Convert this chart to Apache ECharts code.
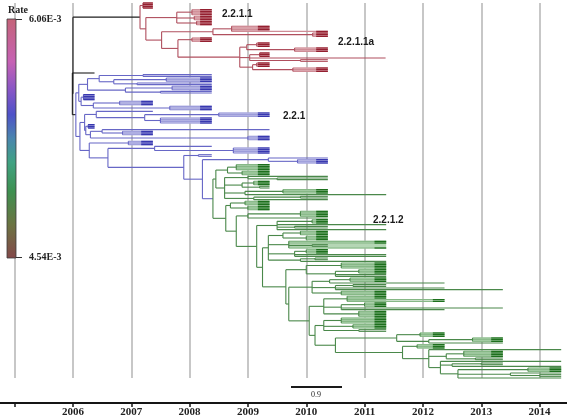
<!DOCTYPE html>
<html><head><meta charset="utf-8">
<script src="https://cdn.jsdelivr.net/npm/echarts@6/dist/echarts.min.js"></script>
<style>html,body{margin:0;padding:0;background:#fff}#c{width:567px;height:419px}</style>
</head><body><div id="c"></div>
<script>
// ---- data ----
const axisYears = [2005, 2006, 2007, 2008, 2009, 2010, 2011, 2012, 2013, 2014];
const yearLabels = ['', '2006', '2007', '2008', '2009', '2010', '2011', '2012', '2013', '2014'];
const cladeNames = ['2.2.1.1', '2.2.1.1a', '2.2.1', '2.2.1.2'];
const legendTexts = ['Rate', '6.06E-3', '4.54E-3'];
const scaleBarText = '0.9';

// tree nodes: number = tip date (one row); [key?, nodeDate, ...children] = internal node
const g1 = [2008.45,
  [2008.65, [2008.80, 2009.37, 2009.37, 2009.37, 2009.37], [2008.90, 2009.37, 2009.37, 2009.37]],
  [2008.60,
    [2009.00, 2010.37, [2009.50, 2010.37, 2010.37]],
    [2008.90, [2009.10, 2009.37, 2009.37, 2009.37], [2009.20, 2009.37, 2009.37]],
    [2008.95, [2009.60, 2010.37, 2010.37, 2010.37], 2011.37],
    [2009.10, [2009.90, 2010.37, 2010.37], 2010.37]]];
const g2 = [2008.70, [2008.95, 2009.37, 2009.37, 2009.37], [2009.00, 2009.37, 2009.37, 2009.37]];
const g3a = [2009.00, [2009.90, 2010.37, 2010.37, 2010.37, 2010.37], 2010.37];
const g3b = [2009.50, [2010.10, 2010.37, 2010.37, 2010.37], 2011.37, [2009.80, 2010.37, 2010.37], 2011.37];
const g3c = [2009.35,
  [2009.60, [2009.90, 2010.37, 2010.37, 2010.37], [2010.00, 2010.37, 2010.37, 2010.37]],
  [2009.70, 2011.37, 2011.37, [2010.10, 2010.37, 2010.37], 2011.37],
  [2009.80, [2010.00, 2010.37, 2010.37, 2010.37], 2011.37, 2011.37],
  [2009.90, [2010.15, 2010.37, 2010.37], 2011.37]];
const g4a = [2010.00, [2010.60, 2011.37, 2011.37, 2011.37, 2011.37], [2010.50, [2010.90, 2011.37, 2011.37, 2011.37], 2011.37, 2011.37]];
const g4b = [2010.10, [2010.40, [2010.75, 2011.37, 2011.37, 2011.37], 2012.37], [2010.50, [2010.80, 2011.37, 2011.37], 2012.37, 2013.37], [2010.60, 2011.37, 2011.37, 2011.37]];
const g4c = [2010.30, [2010.70, 2011.37, 2011.37, 2012.37, 2012.37], [2010.60, [2011.00, 2011.37, 2011.37, 2011.37], 2013.37, 2012.37], [2010.90, 2011.37, 2011.37, 2011.37, 2011.37]];
const g4d = [2010.30, [2010.60, 2011.37, 2011.37, 2011.37, 2011.37], [2010.80, 2011.37, 2011.37, 2011.37], [2010.90, 2011.37, 2011.37]];
const g5a = [2011.55, [2011.95, 2012.37, 2012.37, 2012.37], [2012.10, [2012.85, 2013.37, 2013.37, 2013.37], 2013.37]];
const g5b = [2011.65, [2011.90, 2012.37, 2012.37, 2012.37],
  [2012.10, 2014.37, [2012.40, [2012.70, 2013.37, 2013.37, 2013.37, 2013.37], [2012.90, 2013.37, 2013.37]],
    [2012.30, 2014.37, [2012.50, [2013.00, 2013.37, 2013.37], 2014.37],
      [2012.60, [2013.80, 2014.37, 2014.37, 2014.37], [2013.50, 2014.37, [2014.00, 2014.37, 2014.37]], 2014.37]]]];
const greenClade = ['G', 2008.40, g1,
  [2008.62, g2,
    [2008.80, g3a,
      [2009.15, g3b,
        [2009.25, g3c,
          [2009.65, g4a,
            [2009.70, g4b,
              [2010.05, g4c,
                [2010.15, g4d,
                  [2010.50, g5a, g5b]]]]]]]]]];

const b1 = [2006.25,
  [2006.45, [2007.20, 2008.38, 2008.38], [2006.70, [2007.60, 2008.38, 2008.38, 2008.38], [2007.10, 2008.38, 2008.38]]],
  [2006.90, [2007.70, 2008.38, 2008.38, 2008.38], [2007.50, 2008.38, 2008.38]]];
const b2 = [2006.18, 2006.37, 2006.37, 2006.37, 2006.37];
const b3 = [2006.35, [2006.80, 2007.37, 2007.37, 2007.37], [2007.66, 2008.38, 2008.38, 2008.38]];
const b4 = [2006.40, 2007.37, [2007.23, [2008.50, 2009.37, 2009.37, 2009.37], [2007.50, 2008.38, 2008.38, 2008.38, 2008.38]]];
const b5 = [2006.26, 2006.37, 2006.37, 2006.37];
const b6 = [2006.30, [2006.50, 2009.37, [2006.85, 2007.37, 2007.37, 2007.37]], [2007.95, [2009.00, 2009.37, 2009.37, 2009.37]]];
const b7 = [2006.95, 2007.37, 2007.37, 2007.37];
const b8 = [2006.60,
  [2007.40, 2008.38, [2008.75, 2009.37, 2009.37, 2009.37, 2009.37]],
  [2007.90, [2008.15, 2008.38, 2008.38],
    [2008.22, [2009.35, 2010.37, [2009.85, 2010.37, 2010.37, 2010.37]], greenClade]]];
const blueClade = ['B', 2006.05,
  [2006.10, b1, [2006.14, b2, b3]],
  [2006.12, [2006.20, b4, [2006.22, b5, b6]], [2006.28, b7, b8]]];

const r1 = [2007.20, 2007.37, 2007.37, 2007.37, 2007.37];
const r2 = [2007.78,
  [2008.04, 2008.38, 2008.38, 2008.38, 2008.38],
  [2008.08, 2008.38, 2008.38, 2008.38],
  [2008.12, 2008.38, 2008.38, 2008.38]];
const r3 = [2008.40, [2008.72, 2009.37, 2009.37, 2009.37, 2010.37], [2010.11, 2010.37, 2010.37, 2010.37]];
const r4 = [2008.86,
  [2008.98, [2009.15, 2009.37, 2009.37, 2009.37], [2009.80, 2010.37, 2010.37, 2010.37]],
  [2009.03, [2009.20, 2009.37, 2009.37, 2009.37], 2011.36, [2009.90, 2010.37, 2010.37]],
  [2009.08, [2009.15, 2009.37, 2009.37, 2009.37], [2009.77, 2010.37, 2010.37, 2010.37]]];
const redClade = ['R', 2007.15, r1,
  [2007.25, r2,
    [2007.52, r3,
      [2007.80, [2008.04, 2008.38, 2008.38, 2008.38], r4]]]];

const rootTree = ['K', 2006.00, redClade, ['K', 2005.99, 2006.37, blueClade]];

// ---- layout of the tree (rows from order) ----
const keyIndex = {K: 0, R: 1, B: 2, G: 3};
// per clade: [internal, light terminal, dark tip, cluster fill]
const palette = [
  ['#1e1e1e', '#1e1e1e', '#1e1e1e', 'rgba(0,0,0,0)'],
  ['#b04f5e', '#cf8c96', '#8c1222', '#e2b6bc'],
  ['#6767c6', '#9d9dda', '#2a2aaa', '#c4c4ea'],
  ['#4a884a', '#86b886', '#0f660f', '#b4d6b4']
];
let row = 0;
function build(node, key) {
  if (typeof node === 'number') return {t: node, y: row++, key: key, kids: []};
  let i = 0;
  if (typeof node[0] === 'string') { key = node[0]; i = 1; }
  const n = {t: node[i], key: key, kids: []};
  for (let j = i + 1; j < node.length; j++) n.kids.push(build(node[j], key));
  n.y = (n.kids[0].y + n.kids[n.kids.length - 1].y) / 2;
  return n;
}
const tree = build(rootTree, 'K');
const totalRows = row;
const segs = [];
function emit(n, parent) {
  if (parent) {
    const leaf = n.kids.length === 0;
    const clustered = leaf && parent.kids.filter(k => k.kids.length === 0).length >= 3;
    segs.push([parent.t, n.y, n.t, n.y, keyIndex[parent.key], clustered ? 1 : 0]);
    if (clustered) segs.push([Math.max(parent.t, n.t - 0.2), n.y, n.t, n.y, keyIndex[parent.key], 2]);
  }
  if (n.kids.length) {
    const leaves = n.kids.filter(k => k.kids.length === 0);
    if (leaves.length >= 3) {
      segs.push([n.t, leaves[0].y, Math.min.apply(null, leaves.map(k => k.t)), leaves[leaves.length - 1].y, keyIndex[n.key], 3]);
    }
    segs.push([n.t, n.kids[0].y, n.t, n.kids[n.kids.length - 1].y, keyIndex[n.key], 0]);
    n.kids.forEach(k => emit(k, n));
  }
}
emit(tree, null);
const order = [3, 1, 0, 2];
segs.sort((a, b) => order.indexOf(a[5]) - order.indexOf(b[5]));

// ---- chart ----
const chart = echarts.init(document.getElementById('c'), null, {renderer: 'canvas'});
const serif = '"Liberation Serif", "Times New Roman", serif';
const sans = '"Liberation Sans", Arial, sans-serif';
chart.setOption({
  animation: false,
  backgroundColor: '#ffffff',
  grid: [
    {left: 14.6, right: 27.4, top: 3, height: 375},
    {left: 14.6, right: 27.4, top: 402, height: 1}
  ],
  xAxis: [
    {gridIndex: 0, type: 'value', min: axisYears[0], max: axisYears[axisYears.length - 1], interval: 1,
     axisLine: {show: false}, axisTick: {show: false}, axisLabel: {show: false},
     splitLine: {show: true, lineStyle: {color: '#b4b4b4', width: 1.5}}},
    {gridIndex: 1, type: 'value', min: axisYears[0], max: axisYears[axisYears.length - 1], interval: 1, position: 'bottom',
     axisLine: {show: true, lineStyle: {color: '#151515', width: 2}},
     axisTick: {show: true, length: 4, lineStyle: {color: '#151515', width: 1.5}},
     axisLabel: {margin: 4, fontFamily: serif, fontWeight: 'bold', fontSize: 11, color: '#222',
       formatter: v => yearLabels[axisYears.indexOf(Math.round(v))] || ''},
     splitLine: {show: false}}
  ],
  yAxis: [
    {gridIndex: 0, type: 'value', inverse: true, min: 0, max: totalRows - 1, show: false},
    {gridIndex: 1, type: 'value', show: false}
  ],
  series: [{
    type: 'custom',
    xAxisIndex: 0, yAxisIndex: 0,
    clip: false, silent: true,
    data: segs,
    encode: {x: [0, 2], y: [1, 3]},
    renderItem: function (params, api) {
      const p1 = api.coord([api.value(0), api.value(1)]);
      const p2 = api.coord([api.value(2), api.value(3)]);
      const kind = api.value(5);
      const col = palette[api.value(4)][kind];
      if (kind === 3) {
        return {type: 'rect', shape: {x: p1[0], y: p1[1] - 0.5, width: p2[0] - p1[0], height: p2[1] - p1[1] + 1},
          style: {fill: col}};
      }
      return {type: 'line', shape: {x1: p1[0], y1: p1[1], x2: p2[0], y2: p2[1]},
        style: {stroke: col, lineWidth: 1.1}};
    }
  }],
  graphic: [
    {type: 'line', z: 1, shape: {x1: 0, y1: 403, x2: 567, y2: 403}, style: {stroke: '#151515', lineWidth: 2}},
    {type: 'rect', z: 10, shape: {x: 7, y: 19, width: 9, height: 239},
     style: {fill: new echarts.graphic.LinearGradient(0, 0, 0, 1, [
       {offset: 0, color: '#c46478'}, {offset: 0.18, color: '#c662b4'}, {offset: 0.3, color: '#8656c6'},
       {offset: 0.4, color: '#4e52c8'}, {offset: 0.5, color: '#4a86ae'}, {offset: 0.6, color: '#40a282'},
       {offset: 0.72, color: '#3e9050'}, {offset: 0.86, color: '#6c7442'}, {offset: 1, color: '#84484a'}]),
       stroke: '#3a3a3a', lineWidth: 0.8}},
    {type: 'line', z: 10, shape: {x1: 16, y1: 19.5, x2: 22, y2: 19.5}, style: {stroke: '#333', lineWidth: 1}},
    {type: 'line', z: 10, shape: {x1: 16, y1: 257.5, x2: 22, y2: 257.5}, style: {stroke: '#333', lineWidth: 1}},
    {type: 'text', z: 10, x: 8, y: 10, style: {text: legendTexts[0], font: 'bold 10px ' + serif, fill: '#222', verticalAlign: 'middle'}},
    {type: 'text', z: 10, x: 29, y: 19, style: {text: legendTexts[1], font: 'bold 10px ' + serif, fill: '#222', verticalAlign: 'middle'}},
    {type: 'text', z: 10, x: 29, y: 257, style: {text: legendTexts[2], font: 'bold 10px ' + serif, fill: '#222', verticalAlign: 'middle'}},
    {type: 'text', z: 10, x: 222, y: 14, style: {text: cladeNames[0], font: 'bold 10px ' + sans, fill: '#1a1a1a', verticalAlign: 'middle'}},
    {type: 'text', z: 10, x: 338, y: 42, style: {text: cladeNames[1], font: 'bold 10px ' + sans, fill: '#1a1a1a', verticalAlign: 'middle'}},
    {type: 'text', z: 10, x: 283, y: 116, style: {text: cladeNames[2], font: 'bold 10px ' + sans, fill: '#1a1a1a', verticalAlign: 'middle'}},
    {type: 'text', z: 10, x: 373, y: 220, style: {text: cladeNames[3], font: 'bold 10px ' + sans, fill: '#1a1a1a', verticalAlign: 'middle'}},
    {type: 'line', z: 10, shape: {x1: 291, y1: 387, x2: 342, y2: 387}, style: {stroke: '#1a1a1a', lineWidth: 1.8}},
    {type: 'text', z: 10, x: 316, y: 395, style: {text: scaleBarText, font: '8px ' + serif, fill: '#222', align: 'center', verticalAlign: 'middle'}}
  ]
});
</script>
</body></html>
